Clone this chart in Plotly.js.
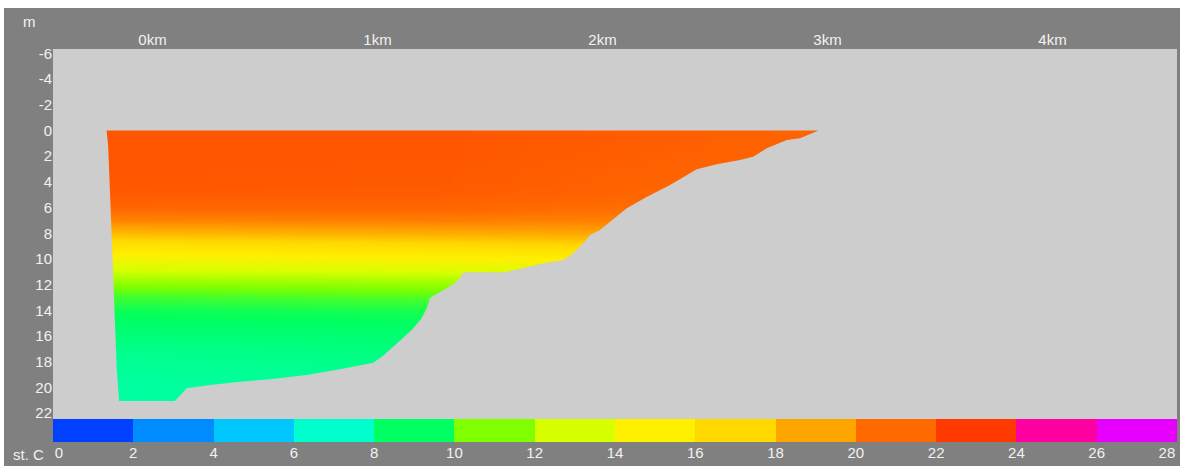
<!DOCTYPE html>
<html>
<head>
<meta charset="utf-8">
<script src="https://cdn.plot.ly/plotly-3.0.1.min.js"></script>
<style>
html,body{margin:0;padding:0;background:#ffffff;width:1180px;height:466px;overflow:hidden;}
#chart{position:absolute;left:4px;top:8px;width:1176px;height:458px;}
</style>
</head>
<body>
<div id="chart"></div>
<script>
// ---- data ----
// temperature stations (distance, km) and depths (m)
const stationKm = [-0.2, 1.3, 2.9];
const depthM = [0,1,2,3,4,5,6,7,8,9,10,11,12,13,14,15,16,17,18,19,20,21];
const tempStationA = [21.9,21.9,21.9,21.8,21.8,21.6,21.1,20.1,18.2,16.0,14.3,12.7,11.1,9.9,9.2,8.8,8.5,8.2,8.0,7.9,7.8,7.8];
const tempStationB = [21.8,21.8,21.8,21.7,21.7,21.5,21.1,20.3,18.7,16.5,14.8,13.0,11.4,10.2,9.4,9.0,8.7,8.5,8.3,8.1,8.0,8.0];
const tempStationC = [21.3,21.3,21.2,21.1,21.0,20.9,20.6,20.1,19.2,17.4,15.6,14.0,12.5,11.0,10.0,9.4,9.0,8.8,8.6,8.4,8.3,8.3];

// lake bed profile (left wall, bottom, right slope)
const bedKm = [-0.204,-0.197,-0.192,-0.184,-0.178,-0.172,-0.166,-0.159,-0.150,-0.148,
  0.100,0.152,0.256,0.389,0.522,0.685,0.833,0.981,1.024,1.070,1.152,1.196,1.219,1.233,1.247,1.308,1.352,1.381,1.389,
  1.567,1.648,1.737,1.826,1.869,1.915,1.944,1.989,2.033,2.108,2.196,2.300,2.419,2.508,2.611,2.670,2.730,2.819,2.878,2.959,2.960];
const bedDepth = [0,1.2,4.0,7.0,9.8,12.6,15.6,18.5,20.7,21.05,
  21.05,20.06,19.81,19.55,19.36,19.03,18.58,18.07,17.55,16.82,15.53,14.61,13.84,13.06,12.88,12.28,11.77,11.07,11.03,
  11.03,10.72,10.33,10.08,9.56,8.78,8.13,7.74,7.10,6.05,5.18,4.24,3.02,2.63,2.30,2.04,1.39,0.74,0.61,0.04,0];

// axis ticks
const kmTicks = [0,1,2,3,4];
const kmLabels = ['0km','1km','2km','3km','4km'];
const depthTicks = [-6,-4,-2,0,2,4,6,8,10,12,14,16,18,20,22];
const depthLabels = ['-6','-4','-2','0','2','4','6','8','10','12','14','16','18','20','22'];

// colour scale (temperature bins, °C)
const binCentres = [1,3,5,7,9,11,13,15,17,19,21,23,25,27];
const binColours = ['#0040FF','#008CFF','#00C8FF','#00FFCC','#00FF60','#80FF00','#D8FF00',
  '#FFF000','#FFD800','#FFA500','#FF6A00','#FF3A00','#FF00A0','#E800FF'];
const scaleTicks = [0,2,4,6,8,10,12,14,16,18,20,22,24,26,28];
const tMin = 0, tMax = 28;

// ---- build ----
const z = depthM.map((d,i)=>[tempStationA[i], tempStationB[i], tempStationC[i]]);
const colorscale = [[0, binColours[0]]];
binCentres.forEach((c,i)=>colorscale.push([(c - tMin)/(tMax - tMin), binColours[i]]));
colorscale.push([1, binColours[binColours.length-1]]);

const xR = [-0.4422, 4.5533];
const yR = [22.45, -6.34];

// mask: above surface and below bed
const maskX = [xR[0]-0.1, xR[1]+0.1, xR[1]+0.1, xR[0]-0.1, null]
  .concat([bedKm[bedKm.length-1], xR[1]+0.1, xR[1]+0.1, xR[0]-0.1, xR[0]-0.1].concat(bedKm));
const maskY = [yR[1]-1, yR[1]-1, 0, 0, null]
  .concat([0, 0, yR[0]+1, yR[0]+1, 0].concat(bedDepth));

const edges = scaleTicks;
const tickPos = scaleTicks.map(v => v === tMin ? v + 0.15 : (v === tMax ? v - 0.25 : v));

const font = {family:'Liberation Sans, Arial, sans-serif', size:15, color:'#f2f2f2'};

const traces = [
  {type:'heatmap', x:stationKm, y:depthM, z:z, zmin:tMin, zmax:tMax, colorscale:colorscale,
   zsmooth:'best', showscale:false, hoverinfo:'skip', xaxis:'x', yaxis:'y'},
  {type:'scatter', mode:'lines', x:maskX, y:maskY, fill:'toself', fillcolor:'#cdcdcd',
   line:{width:0, color:'#cdcdcd'}, hoverinfo:'skip', showlegend:false, xaxis:'x', yaxis:'y'},
  {type:'heatmap', x:edges, y:[0,1], z:[binCentres], zmin:tMin, zmax:tMax, colorscale:colorscale,
   zsmooth:false, showscale:false, hoverinfo:'skip', xaxis:'x2', yaxis:'y2'}
];

const dom = 23/393;
const layout = {
  width:1176, height:458,
  margin:{l:49, r:3, t:41, b:24, pad:0},
  paper_bgcolor:'#808080', plot_bgcolor:'#cdcdcd',
  showlegend:false,
  font:font,
  xaxis:{domain:[0,1], range:xR, side:'top', anchor:'y', tickmode:'array', tickvals:kmTicks, ticktext:kmLabels,
    showgrid:false, zeroline:false, showline:false, ticks:'', tickfont:font, fixedrange:true},
  yaxis:{domain:[dom,1], range:yR, anchor:'x', tickmode:'array', tickvals:depthTicks, ticktext:depthLabels,
    showgrid:false, zeroline:false, showline:false, ticks:'', tickfont:font, fixedrange:true},
  xaxis2:{domain:[0,1], range:[tMin,tMax], anchor:'y2', side:'bottom', tickmode:'array', tickvals:tickPos, ticktext:scaleTicks.map(String),
    showgrid:false, zeroline:false, showline:false, ticks:'', tickfont:font, fixedrange:true},
  yaxis2:{domain:[0,dom], range:[0,1], anchor:'x2', showticklabels:false, showgrid:false, zeroline:false, showline:false, ticks:'', fixedrange:true},
  annotations:[
    {text:'m', xref:'paper', yref:'paper', x:-24/1124, y:(434-13.7)/393, xanchor:'center', yanchor:'middle', showarrow:false, font:font},
    {text:'st. C', xref:'paper', yref:'paper', x:-25/1124, y:(434-446)/393, xanchor:'center', yanchor:'middle', showarrow:false, font:font}
  ]
};

Plotly.newPlot('chart', traces, layout, {displayModeBar:false, staticPlot:true});
</script>
</body>
</html>
